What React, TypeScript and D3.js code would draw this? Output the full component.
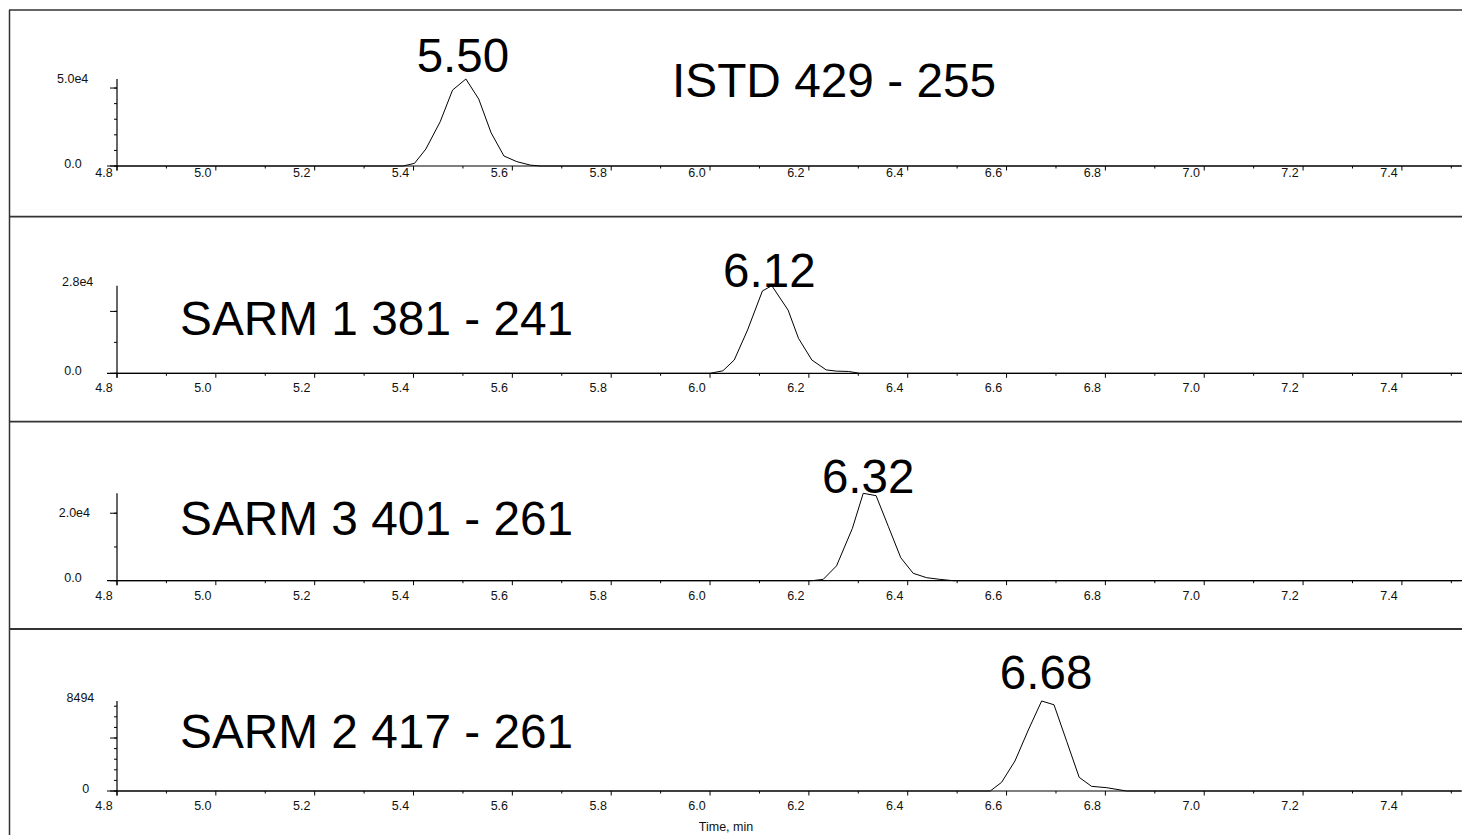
import React from "react";
import * as d3 from "d3";

// ---------- data ----------
const panelNames = ["ISTD 429 - 255", "SARM 1 381 - 241", "SARM 3 401 - 261", "SARM 2 417 - 261"];
const retentionTimes = [5.5, 6.12, 6.32, 6.68];
const retentionLabels = ["5.50", "6.12", "6.32", "6.68"];
const yTopLabels = ["5.0e4", "2.8e4", "2.0e4", "8494"];
const yTopLabelValues = [50000, 28300, 20000, 8494];
const yZeroLabels = ["0.0", "0.0", "0.0", "0"];
const yMajorStep = [50000, 20000, 20000, 5000];
const yMinorStep = [10000, 10000, 10000, 1000];
const xMajorTicks = [4.8, 5.0, 5.2, 5.4, 5.6, 5.8, 6.0, 6.2, 6.4, 6.6, 6.8, 7.0, 7.2, 7.4];
const xMinorTicks = [4.9, 5.1, 5.3, 5.5, 5.7, 5.9, 6.1, 6.3, 6.5, 6.7, 6.9, 7.1, 7.3, 7.5];
const xAxisTitle = "Time, min";

const istdTime = [4.8, 5.379, 5.402, 5.425, 5.454, 5.479, 5.506, 5.532, 5.557, 5.583, 5.609, 5.636, 5.656, 7.52];
const istdIntensity = [0, 0, 1700, 10900, 28400, 48700, 55800, 42900, 21300, 6400, 2800, 600, 0, 0];

const sarm1Time = [4.8, 6.0, 6.026, 6.049, 6.076, 6.106, 6.125, 6.158, 6.179, 6.206, 6.235, 6.256, 6.28, 6.303, 7.52];
const sarm1Intensity = [0, 0, 800, 4300, 14000, 26600, 28300, 20400, 11300, 4300, 1100, 700, 600, 0, 0];

const sarm3Time = [4.8, 6.206, 6.229, 6.256, 6.288, 6.31, 6.336, 6.361, 6.386, 6.411, 6.438, 6.465, 6.492, 7.52];
const sarm3Intensity = [0, 0, 400, 4400, 15500, 25900, 25200, 16000, 6800, 2200, 900, 400, 0, 0];

const sarm2Time = [4.8, 6.567, 6.59, 6.617, 6.644, 6.671, 6.696, 6.722, 6.747, 6.772, 6.803, 6.843, 7.52];
const sarm2Intensity = [0, 0, 820, 2830, 5750, 8494, 8140, 4650, 1290, 440, 310, 0, 0];

const seriesTimes = [istdTime, sarm1Time, sarm3Time, sarm2Time];
const seriesIntensities = [istdIntensity, sarm1Intensity, sarm3Intensity, sarm2Intensity];

// ---------- layout ----------
const W = 1462;
const H = 835;
const FONT = "'Liberation Sans', Arial, Helvetica, sans-serif";
const axisX = 117;
const xDomain: [number, number] = [4.8, 7.5216];
const separators = [216.7, 421.7, 629];
const baselines = [166, 373.3, 580.7, 791];
const plotHeights = [87, 87.6, 87.4, 90];
const topLabelDy = [-4.7, 0.3, 3.4, 0.7];
const topLabelRight = [88.3, 93.3, 90, 94.3];
const zeroLabelRight = [81.7, 81.7, 81.7, 89.3];
const xLabelDy = [11.3, 18.4, 19.3, 19];
const titleX = [672, 180, 180, 180];
const titleY = [97, 335, 535, 748];
const rtLabelY = [72.3, 287, 492.7, 689.3];

export default function App() {
  const x = d3.scaleLinear().domain(xDomain).range([axisX, W]);

  return (
    <>
      <style>{`html,body{margin:0;padding:0;overflow:hidden;background:#fff}`}</style>
      <svg width={W} height={H} style={{ display: "block", background: "#fff" }} fontFamily={FONT}>
        {/* outer frame */}
        <line x1={9.5} x2={9.5} y1={10} y2={H} stroke="#333" strokeWidth={1.5} />
        <line x1={9} x2={W} y1={10} y2={10} stroke="#333" strokeWidth={1.5} />
        {separators.map((s, i) => (
          <line key={i} x1={9} x2={W} y1={s} y2={s} stroke="#333" strokeWidth={1.8} />
        ))}

        {panelNames.map((name, p) => {
          const times = seriesTimes[p];
          const vals = seriesIntensities[p];
          const maxV = d3.max(vals) as number;
          const base = baselines[p];
          const y = d3.scaleLinear().domain([0, maxV]).range([base, base - plotHeights[p]]);
          const pts = times.map((t, i) => [t, vals[i]] as [number, number]);
          const line = d3
            .line<[number, number]>()
            .x((d) => x(d[0]))
            .y((d) => y(d[1]));
          const minor = d3.range(0, maxV + 1, yMinorStep[p]);
          const major = d3.range(0, maxV + 1, yMajorStep[p]);
          const rtX = x(retentionTimes[p]);
          return (
            <g key={p}>
              {/* x axis */}
              <line x1={axisX - 10} x2={W} y1={base} y2={base} stroke="#000" strokeWidth={1.2} />
              {xMajorTicks.map((t, i) => (
                <g key={"M" + i}>
                  <line x1={x(t)} x2={x(t)} y1={base} y2={base + 4.5} stroke="#000" strokeWidth={1} />
                  <text
                    x={x(t) - 13}
                    y={base + xLabelDy[p]}
                    fontSize={12.5}
                    textAnchor="middle"
                    fill="#111"
                  >
                    {t.toFixed(1)}
                  </text>
                </g>
              ))}
              {xMinorTicks.map((t, i) => (
                <line key={"m" + i} x1={x(t)} x2={x(t)} y1={base} y2={base + 2.5} stroke="#000" strokeWidth={1} />
              ))}

              {/* y axis */}
              <line x1={axisX} x2={axisX} y1={y(maxV)} y2={base + 4.5} stroke="#000" strokeWidth={1.2} />
              {minor.map((v, i) => (
                <line key={"ym" + i} x1={axisX - 3} x2={axisX} y1={y(v)} y2={y(v)} stroke="#000" strokeWidth={1} />
              ))}
              {major.map((v, i) => (
                <line key={"yM" + i} x1={axisX - 7} x2={axisX} y1={y(v)} y2={y(v)} stroke="#000" strokeWidth={1} />
              ))}
              <text x={topLabelRight[p]} y={y(yTopLabelValues[p]) + topLabelDy[p]} fontSize={12.5} textAnchor="end" fill="#111">
                {yTopLabels[p]}
              </text>
              <text x={zeroLabelRight[p]} y={base + 1.5} fontSize={12.5} textAnchor="end" fill="#111">
                {yZeroLabels[p]}
              </text>

              {/* trace */}
              <path d={line(pts) || ""} fill="none" stroke="#000" strokeWidth={1} strokeLinejoin="round" />

              {/* labels */}
              <text x={rtX} y={rtLabelY[p]} fontSize={47.5} textAnchor="middle" fill="#000">
                {retentionLabels[p]}
              </text>
              <text x={titleX[p]} y={titleY[p]} fontSize={47.8} fill="#000">
                {name}
              </text>
            </g>
          );
        })}

        <text x={726} y={831} fontSize={12.5} textAnchor="middle" fill="#111">
          {xAxisTitle}
        </text>
      </svg>
    </>
  );
}
